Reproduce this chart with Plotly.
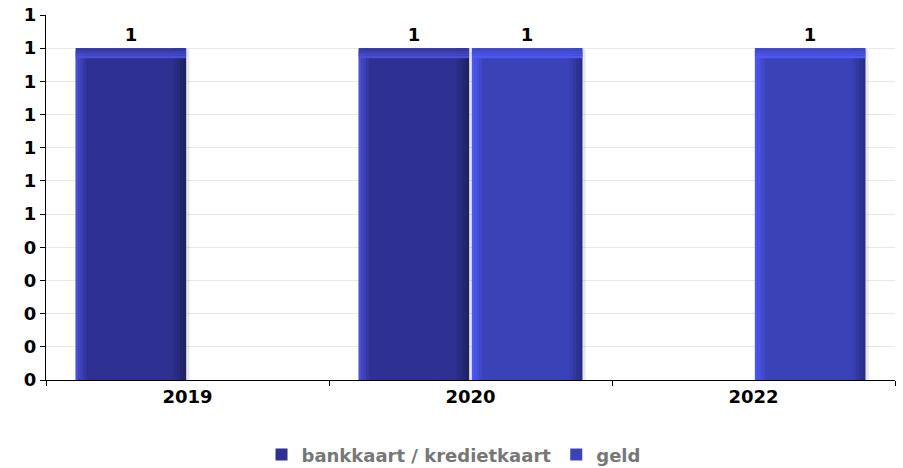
import plotly.graph_objects as go

# Payment methods per year
years = ["2019", "2020", "2022"]
bankkaart = [1, 1, None]
geld = [None, 1, 1]
series_names = ["bankkaart / kredietkaart", "geld"]
series_values = [bankkaart, geld]
y_ticks = [i / 10 for i in range(12)]

# body, highlight and shade colour for each series
palette = [
    ("#2e3192", "#4a50d6", "#1f2263"),
    ("#3a42b8", "#4d58f4", "#282e88"),
]

FONT = "DejaVu Sans"
FS = 18
BAR_W = 0.39
offsets = [-0.395, 0.005]
STEPS = 4


def mix(c1, c2, t):
    a = [int(c1[i:i + 2], 16) for i in (1, 3, 5)]
    b = [int(c2[i:i + 2], 16) for i in (1, 3, 5)]
    return "#" + "".join(f"{round(x + (y - x) * t):02x}" for x, y in zip(a, b))


def deco(x, y, off, width, color, base=None, radius=0):
    return go.Bar(x=x, y=y, base=base, offset=off, width=width,
                  marker=dict(color=color, line_width=0, cornerradius=radius),
                  showlegend=False, hoverinfo="skip")


fig = go.Figure()
for name, vals, (main, light, dark), off in zip(series_names, series_values, palette, offsets):
    # soft shadow to the right of each bar
    fig.add_trace(deco(years, vals, off + 0.012, BAR_W, "rgba(0,0,0,0.09)", radius=4))
    # body of the bar, carries the value label
    fig.add_trace(go.Bar(
        x=years, y=vals, offset=off, width=BAR_W, showlegend=False,
        marker=dict(color=main, line_width=0, cornerradius=4),
        text=vals, texttemplate="%{y:.0f}", textposition="outside",
        textfont=dict(family=FONT, size=FS, color="black", weight="bold"),
        cliponaxis=False, hoverinfo="skip"))
    # square legend swatch
    fig.add_trace(go.Bar(x=[years[0]], y=[None], name=name,
                         marker=dict(color=main, line_width=0), hoverinfo="skip"))
    # lit left edge, fading into the body
    sw = 0.009
    for k in range(STEPS):
        fig.add_trace(deco(years, vals, off + k * sw, sw, mix(light, main, k / STEPS)))
    # shaded right edge
    sw = 0.011
    for k in range(STEPS):
        fig.add_trace(deco(years, vals, off + BAR_W - (k + 1) * sw, sw,
                           mix(dark, main, k / STEPS)))
    # bevelled top band
    bh = 0.0075
    for k in range(STEPS):
        fig.add_trace(deco(
            years, [bh if v else None for v in vals],
            off, BAR_W, mix(light, main, (STEPS - 1 - k) / STEPS),
            base=[v - (k + 1) * bh if v else None for v in vals],
            radius=4 if k == STEPS - 1 else 0))

fig.update_layout(
    barmode="overlay",
    width=903, height=468,
    margin=dict(l=46, r=8, t=15, b=88, autoexpand=False),
    plot_bgcolor="white", paper_bgcolor="white",
    font=dict(family=FONT, size=FS, color="black"),
    showlegend=True,
    legend=dict(orientation="h", x=0.48, xanchor="center",
                yref="container", y=0.028, yanchor="middle",
                font=dict(family=FONT, size=FS, color="#777777", weight="bold"),
                itemclick=False, itemdoubleclick=False, tracegroupgap=0),
)
fig.update_xaxes(
    type="category", showgrid=False, showline=True, linecolor="black", linewidth=1,
    ticks="outside", tickson="boundaries", ticklen=5, tickcolor="black",
    tickfont=dict(family=FONT, size=FS, color="black", weight="bold"),
    range=[-0.5, 2.5])
fig.update_yaxes(
    range=[0, 1.1], tickvals=y_ticks, tickformat=".0f",
    showgrid=True, gridcolor="#e8e8e8", gridwidth=1,
    showline=True, linecolor="black", linewidth=1,
    ticks="outside", ticklen=5, tickcolor="black",
    tickfont=dict(family=FONT, size=FS, color="black", weight="bold"),
    zeroline=False)

fig.write_html("out.html")
